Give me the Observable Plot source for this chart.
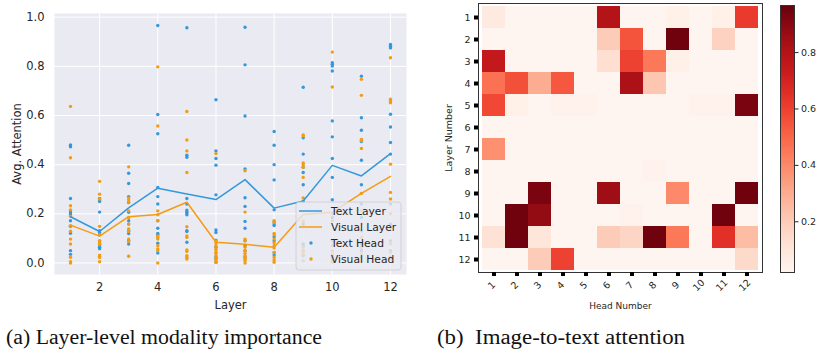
<!DOCTYPE html>
<html><head><meta charset="utf-8">
<script src="https://cdn.jsdelivr.net/npm/d3@7"></script>
<script src="https://cdn.jsdelivr.net/npm/@observablehq/plot@0.6"></script>
<style>
html,body{margin:0;padding:0;background:#fff}
#root{position:relative;width:816px;height:353px;overflow:hidden;font-family:"DejaVu Sans",sans-serif}
#root > svg{position:absolute;top:0;overflow:visible}
</style></head><body><div id="root"></div>
<script>
// ---------- panel (a) data ----------
const layers = [1,2,3,4,5,6,7,8,9,10,11,12];
const textLayer   = [0.188,0.128,0.224,0.304,0.281,0.258,0.339,0.223,0.252,0.397,0.354,0.445];
const visualLayer = [0.154,0.109,0.188,0.197,0.247,0.084,0.076,0.064,0.197,0.206,0.283,0.352];
const yTicksA = [0.0,0.2,0.4,0.6,0.8,1.0];
const xTicksA = [2,4,6,8,10,12];
const textHead = [
  [0.480,0.477,0.473,0.262,0.212,0.203,0.196,0.172,0.149,0.121,0.050,0.035],
  [0.262,0.256,0.250,0.207,0.131,0.124,0.115,0.090,0.077,0.070,0.064,0.058],
  [0.479,0.365,0.323,0.270,0.246,0.206,0.172,0.158,0.131,0.120,0.090,0.077],
  [0.966,0.604,0.526,0.307,0.270,0.240,0.172,0.141,0.120,0.115,0.080,0.040],
  [0.957,0.438,0.430,0.262,0.240,0.215,0.208,0.203,0.196,0.131,0.128,0.084],
  [0.664,0.456,0.425,0.398,0.277,0.134,0.124,0.093,0.064,0.023,0.016,0.003],
  [0.959,0.806,0.598,0.382,0.265,0.230,0.169,0.141,0.090,0.070,0.050,0.023],
  [0.535,0.479,0.400,0.338,0.216,0.168,0.158,0.152,0.107,0.090,0.043,0.032],
  [0.715,0.509,0.443,0.389,0.368,0.318,0.250,0.158,0.077,0.070,0.050,0.030],
  [0.815,0.808,0.801,0.781,0.578,0.513,0.425,0.348,0.257,0.185,0.090,0.030],
  [0.760,0.591,0.540,0.494,0.418,0.318,0.240,0.185,0.131,0.077,0.050,0.023],
  [0.889,0.882,0.875,0.605,0.553,0.490,0.443,0.240,0.158,0.090,0.050,0.023]
];
const visualHead = [
  [0.637,0.428,0.233,0.216,0.190,0.152,0.129,0.097,0.077,0.023,0.005,0.000],
  [0.332,0.280,0.260,0.149,0.115,0.090,0.081,0.075,0.032,0.027,0.022,0.005],
  [0.391,0.264,0.256,0.246,0.212,0.185,0.158,0.138,0.129,0.097,0.088,0.027],
  [0.798,0.557,0.212,0.196,0.172,0.110,0.104,0.097,0.070,0.057,0.050,0.000],
  [0.616,0.500,0.456,0.368,0.147,0.110,0.104,0.053,0.047,0.030,0.023,0.016],
  [0.445,0.090,0.081,0.070,0.061,0.053,0.043,0.039,0.030,0.020,0.012,0.003],
  [0.375,0.207,0.097,0.090,0.064,0.050,0.039,0.030,0.023,0.016,0.010,0.000],
  [0.172,0.165,0.120,0.115,0.097,0.081,0.070,0.061,0.043,0.023,0.012,0.003],
  [0.521,0.517,0.407,0.400,0.389,0.348,0.264,0.169,0.064,0.046,0.036,0.009],
  [0.858,0.716,0.199,0.172,0.090,0.070,0.050,0.036,0.023,0.016,0.009,0.003],
  [0.747,0.682,0.503,0.497,0.466,0.283,0.212,0.158,0.104,0.064,0.036,0.009],
  [0.835,0.666,0.659,0.652,0.402,0.287,0.260,0.200,0.145,0.077,0.043,0.016]
];
const legendLabels = ["Text Layer","Visual Layer","Text Head","Visual Head"];

// ---------- panel (b) data ----------
const heads = [1,2,3,4,5,6,7,8,9,10,11,12];
const layerNums = [1,2,3,4,5,6,7,8,9,10,11,12];
const attention = [
  [0.08,0.02,0.02,0.02,0.02,0.80,0.02,0.02,0.05,0.02,0.05,0.62],
  [0.02,0.02,0.02,0.02,0.02,0.20,0.55,0.02,0.95,0.02,0.18,0.02],
  [0.75,0.02,0.02,0.02,0.02,0.13,0.60,0.45,0.05,0.02,0.02,0.02],
  [0.47,0.56,0.30,0.54,0.02,0.02,0.82,0.22,0.02,0.02,0.02,0.02],
  [0.58,0.05,0.02,0.04,0.04,0.02,0.02,0.02,0.02,0.04,0.04,0.93],
  [0.02,0.02,0.02,0.02,0.02,0.02,0.02,0.02,0.02,0.02,0.02,0.02],
  [0.38,0.02,0.02,0.02,0.02,0.02,0.02,0.02,0.02,0.02,0.02,0.02],
  [0.02,0.02,0.02,0.02,0.02,0.02,0.02,0.04,0.02,0.02,0.02,0.02],
  [0.02,0.02,0.93,0.02,0.02,0.85,0.02,0.02,0.40,0.02,0.02,0.95],
  [0.02,0.95,0.88,0.02,0.02,0.02,0.04,0.02,0.02,0.02,0.95,0.02],
  [0.12,0.95,0.10,0.02,0.02,0.20,0.17,0.95,0.45,0.02,0.65,0.25],
  [0.02,0.02,0.20,0.60,0.02,0.02,0.02,0.02,0.02,0.02,0.02,0.15]
];
const colorDomain = [0.02,0.967];
const cbTicks = [0.2,0.4,0.6,0.8];
const captions = ["(a) Layer-level modality importance","(b)  Image-to-text attention"];

const BLUE = "#3498db", ORANGE = "#f39c12", INK = "#262626";
const root = document.getElementById("root");

// ---------- panel (a) ----------
const textDots = [], visDots = [];
layers.forEach((l,i)=>{
  textHead[i].forEach(v=>textDots.push({layer:l,value:v}));
  visualHead[i].forEach(v=>visDots.push({layer:l,value:v}));
});
const A = Plot.plot({
  width:416, height:312, marginLeft:54, marginRight:10, marginTop:13, marginBottom:38,
  style:{fontFamily:"DejaVu Sans", fontSize:"11.5px", color:INK, background:"transparent", overflow:"visible"},
  x:{domain:[0.45,12.55]},
  y:{domain:[-0.047,1.015]},
  marks:[
    Plot.frame({fill:"#eaeaf2", stroke:"none"}),
    Plot.gridX(xTicksA,{stroke:"#fff", strokeOpacity:1, strokeWidth:1}),
    Plot.gridY(yTicksA,{stroke:"#fff", strokeOpacity:1, strokeWidth:1}),
    Plot.axisX(xTicksA,{tickSize:0, tickPadding:8, label:"Layer", labelAnchor:"center", labelArrow:"none", labelOffset:34}),
    Plot.axisY(yTicksA,{tickSize:0, tickPadding:10, tickFormat:d3.format(".1f"), label:"Avg. Attention", labelAnchor:"center", labelArrow:"none", labelOffset:42}),
    Plot.dot(textDots,{x:"layer", y:"value", r:1.7, fill:BLUE, stroke:"none"}),
    Plot.dot(visDots,{x:"layer", y:"value", r:1.7, fill:ORANGE, stroke:"none"}),
    Plot.line(layers,{x:d=>d, y:(d,i)=>textLayer[i], stroke:BLUE, strokeWidth:1.5}),
    Plot.line(layers,{x:d=>d, y:(d,i)=>visualLayer[i], stroke:ORANGE, strokeWidth:1.5})
  ]
});
A.style.left = "0px";
root.appendChild(A);

// legend for (a)
{
  const g = d3.select(A).append("g").attr("font-family","DejaVu Sans").attr("font-size","10.7px").attr("fill",INK).attr("text-anchor","start");
  g.append("rect").attr("x",296).attr("y",202).attr("width",105).attr("height",68).attr("rx",3)
    .attr("fill","#eaeaf2").attr("fill-opacity",0.8).attr("stroke","#cccccc").attr("stroke-width",0.8);
  const rows = [211,227,243,259];
  const cols = [BLUE,ORANGE,BLUE,ORANGE];
  legendLabels.forEach((lab,i)=>{
    if (i<2) g.append("line").attr("x1",299).attr("x2",322).attr("y1",rows[i]).attr("y2",rows[i]).attr("stroke",cols[i]).attr("stroke-width",1.5);
    else g.append("circle").attr("cx",311).attr("cy",rows[i]).attr("r",1.7).attr("fill",cols[i]);
    g.append("text").attr("x",331).attr("y",rows[i]).attr("dy","0.35em").attr("text-anchor","start").text(lab);
  });
}

// ---------- panel (b) heatmap ----------
const cells = [];
layerNums.forEach((l,i)=>heads.forEach((h,j)=>cells.push({layer:l, head:h, value:attention[i][j]})));
const B = Plot.plot({
  width:396, height:312, marginLeft:58, marginRight:54, marginTop:3, marginBottom:40,
  style:{fontFamily:"DejaVu Sans", fontSize:"9px", color:INK, background:"transparent", overflow:"visible"},
  x:{domain:heads, padding:0},
  y:{domain:layerNums, padding:0},
  color:{type:"linear", scheme:"reds", domain:colorDomain},
  marks:[
    Plot.cell(cells,{x:"head", y:"layer", fill:"value", inset:0}),
    Plot.frame({stroke:"#333", strokeWidth:1}),
    Plot.axisY({tickSize:4, strokeWidth:4, stroke:"#000", tickPadding:4, fontSize:9.5, label:"Layer Number", labelAnchor:"center", labelArrow:"none", labelOffset:33}),
    Plot.axisX({tickSize:4, strokeWidth:4, stroke:"#000", tickFormat:()=>"", label:"Head Number", labelAnchor:"center", labelArrow:"none", labelOffset:36}),
    Plot.text(heads,{x:d=>d, frameAnchor:"bottom", dy:15, rotate:-45, text:d=>String(d), fontSize:9.5, fill:INK})
  ]
});
B.style.left = "420px";
root.appendChild(B);

// ---------- colorbar ----------
const C = Plot.plot({
  width:46, height:312, marginLeft:10, marginRight:22, marginTop:5, marginBottom:40,
  style:{fontFamily:"DejaVu Sans", fontSize:"9.5px", color:INK, background:"transparent", overflow:"visible"},
  x:{domain:[0,1], axis:null},
  y:{domain:colorDomain},
  color:{type:"linear", scheme:"reds", domain:colorDomain},
  marks:[
    Plot.raster({x1:0, x2:1, y1:colorDomain[0], y2:colorDomain[1], fill:(x,y)=>y, width:1, height:300}),
    Plot.frame({stroke:"#333", strokeWidth:1}),
    Plot.axisY(cbTicks,{anchor:"right", tickSize:3.5, tickPadding:3, tickFormat:d3.format(".1f"), label:null})
  ]
});
C.style.left = "770px";
root.appendChild(C);

// ---------- captions ----------
{
  const svg = d3.select(root).append("svg").attr("width",816).attr("height",41).style("left","0px").style("top","312px");
  const t = svg.append("g").attr("font-family","Liberation Serif, DejaVu Serif, serif").attr("font-size","20px").attr("fill","#111");
  t.append("text").attr("x",6).attr("y",32).attr("textLength",316).attr("lengthAdjust","spacingAndGlyphs").text(captions[0]);
  t.append("text").attr("x",437).attr("y",32).attr("textLength",248).attr("lengthAdjust","spacingAndGlyphs").attr("xml:space","preserve").style("white-space","pre").text(captions[1]);
}
</script></body></html>
